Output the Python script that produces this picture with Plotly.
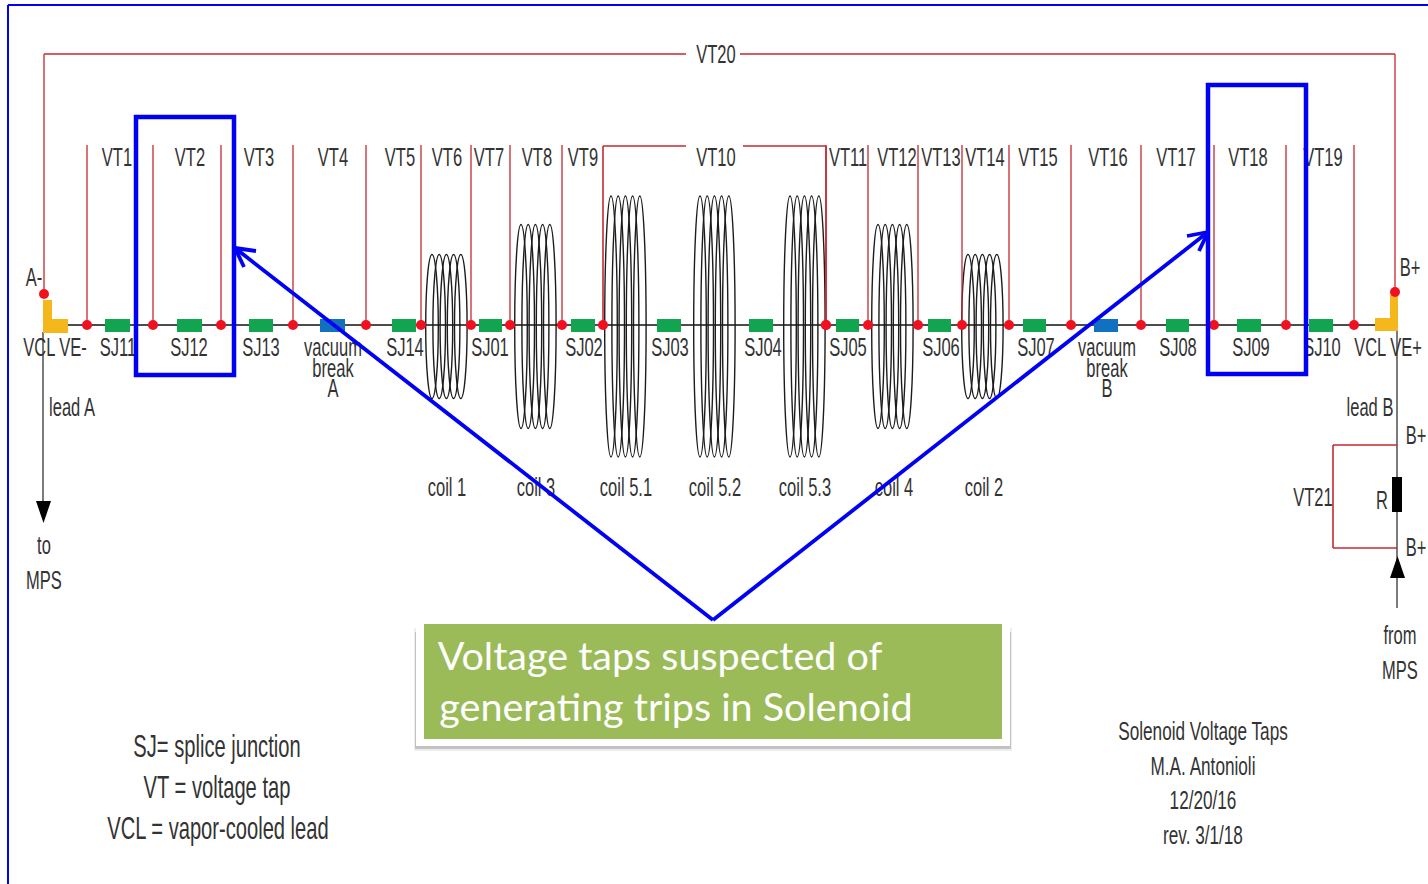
import plotly.graph_objects as go

# everything is laid out in image pixels, y pointing down
W, H = 1428, 884

BUS_Y = 325
BUS_X = [44, 1397]

tap_x = [87, 153, 221, 293, 366, 421, 471, 510, 562, 826, 868, 918, 962, 1009,
         1071, 1141, 1214, 1286, 1354]
tap_top = 145
end_taps = [(44, 294), (1395, 292)]
vt10_x = [603, 826]
vt10_top = 146
vt10_gap = [686, 743]
vt20_y = 54
vt20_gap = [686, 740]
vt21_box = [1333, 1397, 445, 548]

splice_x = [(105, 130), (177, 202), (249, 273), (392, 416), (479, 502), (571, 595),
            (657, 681), (749, 773), (836, 859), (928, 951), (1023, 1046),
            (1166, 1189), (1237, 1261), (1309, 1333)]
vacuum_x = [(320, 345), (1094, 1118)]

# coil: first turn centre x, half height
coil_x = [432, 521, 611, 700, 790, 878, 968]
coil_half_h = [72, 102, 130.5, 130.5, 130.5, 102, 72]
COIL_Y = 326.5
TURN_STEP = 7.2
TURN_RX = 6.3

vt_labels = ['VT1', 'VT2', 'VT3', 'VT4', 'VT5', 'VT6', 'VT7', 'VT8', 'VT9', 'VT10', 'VT11', 'VT12',
             'VT13', 'VT14', 'VT15', 'VT16', 'VT17', 'VT18', 'VT19']
vt_label_x = [117, 190, 259, 333, 400, 447, 489, 537, 583, 716, 848, 897, 941, 985, 1038, 1108,
              1176, 1248, 1323]
sj_labels = ['SJ11', 'SJ12', 'SJ13', 'SJ14', 'SJ01', 'SJ02', 'SJ03', 'SJ04', 'SJ05', 'SJ06',
             'SJ07', 'SJ08', 'SJ09', 'SJ10']
sj_label_x = [118, 189, 261, 405, 490, 584, 670, 763, 848, 941, 1036, 1178, 1251, 1322]
coil_labels = ['coil 1', 'coil 3', 'coil 5.1', 'coil 5.2', 'coil 5.3', 'coil 4', 'coil 2']
coil_label_x = [447, 536, 626, 715, 805, 894, 984]

other_labels = [
    ('VT20', 716, 57), ('VCL VE-', 55, 350), ('VCL VE+', 1388, 350), ('A-', 34, 280),
    ('B+', 1410, 270), ('B+', 1416, 438), ('B+', 1416, 550), ('VT21', 1313, 500), ('R', 1382, 503),
    ('vacuum', 333, 350), ('break', 333, 371), ('A', 333, 391),
    ('vacuum', 1107, 350), ('break', 1107, 371), ('B', 1107, 391),
    ('lead A', 72, 410), ('lead B', 1370, 410),
    ('to', 44, 548), ('MPS', 44, 583), ('from', 1400, 638), ('MPS', 1400, 673),
]
legend_labels = ['SJ= splice junction', 'VT = voltage tap', 'VCL = vapor-cooled lead']
legend_x = [217, 217, 218]
legend_y = [749, 790, 831]
credit_labels = ['Solenoid Voltage Taps', 'M.A. Antonioli', '12/20/16', 'rev. 3/1/18']
credit_y = [733, 768, 802, 837]
callout_lines = ['Voltage taps suspected of', 'generating trips in Solenoid']
callout_x = [660, 676]
callout_y = [660, 711]

RED = '#c42a30'
GREEN = '#12a550'
BLUE = '#0000f5'
TEXT = '#333333'
FONT = 'Liberation Sans'

shapes = []


def line(x0, y0, x1, y1, color, width, layer='below'):
    shapes.append(dict(type='line', x0=x0, y0=y0, x1=x1, y1=y1, layer=layer,
                       line=dict(color=color, width=width)))


def rect(x0, y0, x1, y1, fill, layer='below', opacity=1):
    shapes.append(dict(type='rect', x0=x0, y0=y0, x1=x1, y1=y1, layer=layer, opacity=opacity,
                       fillcolor=fill, line=dict(width=0)))


# outer frame
line(8, 5, W, 5, BLUE, 2)
line(8, 5, 8, H, BLUE, 2)

# callout with its drop shadow
rect(414, 628, 1012, 751, '#8c8c8c', opacity=0.15)
rect(415, 632, 1011, 749, '#8c8c8c', opacity=0.45)
rect(416, 618, 1010, 746, '#ffffff')
rect(424, 624, 1002, 739, '#9bbb59')

# black conductors
line(BUS_X[0], BUS_Y, BUS_X[1], BUS_Y, '#111111', 1.5)
line(43, 332, 43, 505, '#222222', 1.2)
line(1397, 331, 1397, 562, '#222222', 1.2)
line(1397, 575, 1397, 608, '#222222', 1.2)

# coils
for cx, hh in zip(coil_x, coil_half_h):
    for i in range(5):
        c = cx + i * TURN_STEP
        shapes.append(dict(type='circle', x0=c - TURN_RX, x1=c + TURN_RX, y0=COIL_Y - hh, y1=COIL_Y + hh,
                           layer='below', line=dict(color='#1c1c1c', width=1.4)))

# red voltage tap wires
for x in tap_x:
    line(x, tap_top, x, BUS_Y, RED, 1.3)
for x, y in end_taps:
    line(x, vt20_y, x, y, RED, 1.3)
line(end_taps[0][0], vt20_y, vt20_gap[0], vt20_y, RED, 1.3)
line(vt20_gap[1], vt20_y, end_taps[1][0], vt20_y, RED, 1.3)
line(vt10_x[0], vt10_top, vt10_x[0], BUS_Y, RED, 1.6)
line(vt10_x[1], vt10_top, vt10_x[1], BUS_Y, RED, 1.6)
line(vt10_x[0], vt10_top, vt10_gap[0], vt10_top, RED, 1.6)
line(vt10_gap[1], vt10_top, vt10_x[1], vt10_top, RED, 1.6)
x0, x1, y0, y1 = vt21_box
line(x1, y0, x0, y0, RED, 1.6)
line(x0, y0, x0, y1, RED, 1.6)
line(x0, y1, x1, y1, RED, 1.6)

# splices, vacuum breaks, leads, resistor
for a, b in splice_x:
    rect(a, 319, b, 332, GREEN)
for a, b in vacuum_x:
    rect(a, 319, b, 332, '#1270c0')
rect(43, 300, 52, 333, '#f4b81c')
rect(43, 319, 68, 333, '#f4b81c')
rect(1390, 295, 1398, 331, '#f4b81c')
rect(1375, 318, 1398, 331, '#f4b81c')
rect(1392, 477, 1402, 512, '#000000')

# MPS arrows
shapes.append(dict(type='path', path='M 36 501 L 51 501 L 43.5 523 Z', fillcolor='#000000',
                   line=dict(width=0), layer='below'))
shapes.append(dict(type='path', path='M 1390 578 L 1405 578 L 1397.5 556 Z', fillcolor='#000000',
                   line=dict(width=0), layer='below'))

# blue highlight boxes and arrows on top of everything
for bx0, by0, bx1, by1 in [(136, 117, 234, 375), (1208, 85, 1306, 374)]:
    shapes.append(dict(type='rect', x0=bx0, y0=by0, x1=bx1, y1=by1, layer='above',
                       line=dict(color=BLUE, width=4.5)))
for seg in [(713, 620, 235, 248), (235, 248, 256, 251), (235, 248, 244, 267),
            (713, 620, 1208, 232), (1208, 232, 1187, 236), (1208, 232, 1199, 251)]:
    line(*seg, BLUE, 3.8, layer='above')

fig = go.Figure()

# red dots
dot_x = tap_x + vt10_x + [p[0] for p in end_taps]
dot_y = [BUS_Y] * (len(tap_x) + len(vt10_x)) + [p[1] for p in end_taps]
fig.add_trace(go.Scatter(x=dot_x, y=dot_y, mode='markers', marker=dict(color='#f01020', size=10)))

labels = vt_labels + sj_labels + coil_labels + [t[0] for t in other_labels]
label_x = vt_label_x + sj_label_x + coil_label_x + [t[1] for t in other_labels]
label_y = [160] * len(vt_labels) + [350] * len(sj_labels) + [490] * len(coil_labels) + [t[2] for t in other_labels]
fig.add_trace(go.Scatter(x=label_x, y=label_y, text=labels, mode='text',
                         textfont=dict(family=FONT, size=25, color=TEXT)))

fig.add_trace(go.Scatter(x=legend_x, y=legend_y, text=legend_labels, mode='text',
                         textfont=dict(family=FONT, size=30.5, color=TEXT)))

fig.add_trace(go.Scatter(x=[1203] * len(credit_labels), y=credit_y, text=credit_labels, mode='text',
                         textfont=dict(family=FONT, size=26, color=TEXT)))

fig.add_trace(go.Scatter(x=callout_x, y=callout_y, text=callout_lines, mode='text',
                         textfont=dict(family='Lato', size=39.5, color='#ffffff')))

fig.update_layout(
    width=W, height=H,
    margin=dict(l=0, r=0, t=0, b=0),
    plot_bgcolor='#ffffff', paper_bgcolor='#ffffff',
    showlegend=False,
    shapes=shapes,
    xaxis=dict(range=[0, W], visible=False),
    yaxis=dict(range=[H, 0], visible=False),
)

# the source diagram is a squashed bitmap, so squeeze the Liberation labels sideways
squeeze = """
document.body.style.margin='0';
document.querySelectorAll('.textpoint text').forEach(function (t) {
  if (t.style.fontFamily.indexOf('Liberation') < 0) return;
  t.setAttribute('lengthAdjust', 'spacingAndGlyphs');
  t.setAttribute('textLength', t.getComputedTextLength() * 0.66);
});
"""
fig.write_html('out.html', post_script=squeeze, config={'displayModeBar': False})
